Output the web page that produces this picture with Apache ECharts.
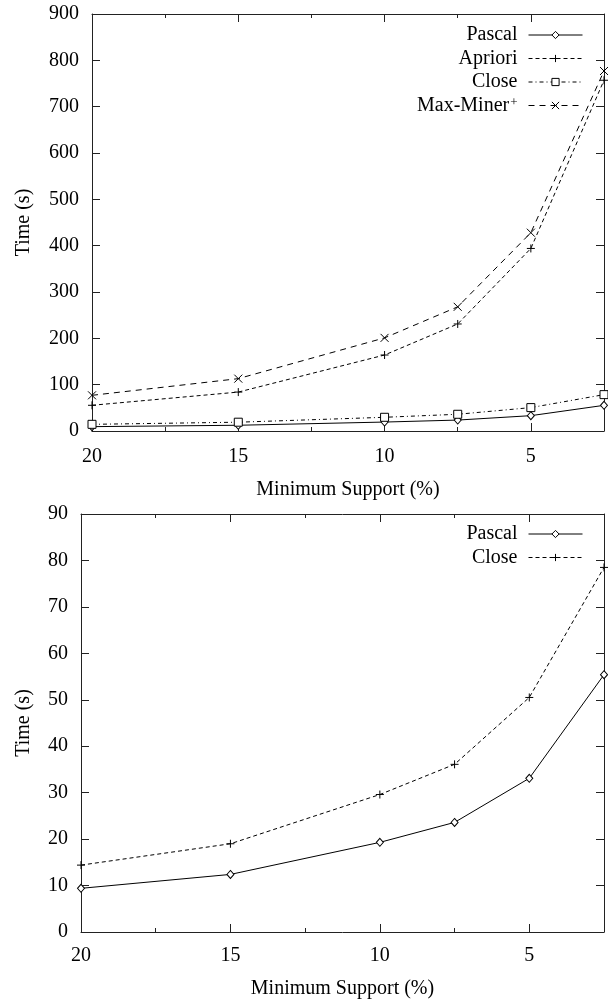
<!DOCTYPE html>
<html>
<head>
<meta charset="utf-8">
<script src="https://cdn.jsdelivr.net/npm/echarts@6/dist/echarts.min.js"></script>
<style>
  html, body { margin: 0; padding: 0; background: #fff; }
  #chart { width: 608px; height: 1001px; }
</style>
</head>
<body>
<div id="chart"></div>
<script>
// Minimum support thresholds (%) and execution times (s)
const supports = [20, 15, 10, 7.5, 5, 2.5];
const pascalTimes = [9.4, 12.4, 19.3, 23.6, 33.1, 55.4];
const aprioriTimes = [55.5, 84, 164, 231, 394, 757];
const closeTimes = [14.4, 19, 29.6, 36.1, 50.5, 78.5];
const maxMinerTimes = [77, 113, 201, 268, 428, 777];

// Axis ticks
const xMajorTicks = [20, 15, 10, 5];
const xMinorTicks = [17.5, 12.5, 7.5];
const topYTicks = { min: 0, max: 900, interval: 100 };
const bottomYTicks = { min: 0, max: 90, interval: 10 };

const FONT = 'Liberation Serif';
const FS = 20;
const INK = '#000';
const AXIS = '#222';

// Legend labels shown for each series name
const legendText = {
  'Pascal': 'Pascal',
  'Apriori': 'Apriori',
  'Close': 'Close',
  'Max-Miner+': 'Max-Miner{sup|+}',
  'Pascal (0-90 s)': 'Pascal',
  'Close (0-90 s)': 'Close'
};

const pairs = (ys) => supports.map((x, i) => [x, ys[i]]);

const SYM = {
  diamond: { symbol: 'diamond', size: [7, 8] },
  plus: { symbol: 'path://M0,5L10,5M5,0L5,10', size: 8 },
  square: { symbol: 'rect', size: 8 },
  cross: { symbol: 'path://M0,0L10,10M0,10L10,0', size: 8 }
};

function lineSeries(name, ys, grid, sym, dash) {
  return {
    type: 'line',
    name: name,
    data: pairs(ys),
    xAxisIndex: grid * 4,
    yAxisIndex: grid * 2,
    symbol: sym.symbol,
    symbolSize: sym.size,
    clip: false,
    lineStyle: { color: INK, width: 1, type: dash },
    itemStyle: { color: '#fff', borderColor: INK, borderWidth: 1 },
    emphasis: { disabled: true }
  };
}

function xAxesFor(grid, nameGap, labelMargin) {
  const base = {
    type: 'value', gridIndex: grid, min: 2.5, max: 20, inverse: true,
    splitLine: { show: false }
  };
  return [
    Object.assign({}, base, {
      position: 'bottom',
      name: 'Minimum Support (%)',
      nameLocation: 'middle',
      nameGap: nameGap,
      nameTextStyle: { fontFamily: FONT, fontSize: FS, color: INK },
      axisLine: { show: true, lineStyle: { color: AXIS, width: 1 } },
      axisTick: { show: true, inside: true, length: 8, customValues: xMajorTicks, lineStyle: { color: AXIS } },
      axisLabel: { show: true, margin: labelMargin, customValues: xMajorTicks, fontFamily: FONT, fontSize: FS, color: INK }
    }),
    Object.assign({}, base, {
      position: 'bottom',
      axisLine: { show: false },
      axisTick: { show: true, inside: true, length: 4, customValues: xMinorTicks, lineStyle: { color: AXIS } },
      axisLabel: { show: false }
    }),
    Object.assign({}, base, {
      position: 'top',
      axisLine: { show: true, lineStyle: { color: AXIS, width: 1 } },
      axisTick: { show: true, inside: true, length: 8, customValues: xMajorTicks, lineStyle: { color: AXIS } },
      axisLabel: { show: false }
    }),
    Object.assign({}, base, {
      position: 'top',
      axisLine: { show: false },
      axisTick: { show: true, inside: true, length: 4, customValues: xMinorTicks, lineStyle: { color: AXIS } },
      axisLabel: { show: false }
    })
  ];
}

function yAxesFor(grid, ticks, nameGap) {
  const base = {
    type: 'value', gridIndex: grid,
    min: ticks.min, max: ticks.max, interval: ticks.interval,
    splitLine: { show: false },
    axisLine: { show: true, lineStyle: { color: AXIS, width: 1 } },
    axisTick: { show: true, inside: true, length: 8, lineStyle: { color: AXIS } }
  };
  return [
    Object.assign({}, base, {
      position: 'left',
      name: 'Time (s)',
      nameLocation: 'middle',
      nameGap: nameGap,
      nameRotate: 90,
      nameTextStyle: { fontFamily: FONT, fontSize: FS, color: INK },
      axisLabel: { show: true, margin: 13, fontFamily: FONT, fontSize: FS, color: INK }
    }),
    Object.assign({}, base, {
      position: 'right',
      axisLabel: { show: false }
    })
  ];
}

function legendFor(names, top) {
  return {
    orient: 'vertical',
    right: 25,
    top: top,
    padding: 0,
    align: 'right',
    itemWidth: 54,
    itemHeight: 9,
    itemGap: 3.5,
    selectedMode: false,
    data: names,
    lineStyle: { width: 1 },
    itemStyle: { borderWidth: 1 },
    formatter: (n) => legendText[n],
    textStyle: {
      fontFamily: FONT, fontSize: FS, color: INK, lineHeight: 18,
      padding: [0, 6, 0, 0],
      rich: {
        sup: { fontFamily: FONT, fontSize: 13, color: INK, verticalAlign: 'top', lineHeight: 18, padding: [0, 0, 6, 1] }
      }
    }
  };
}

const chart = echarts.init(document.getElementById('chart'), null, { renderer: 'canvas' });

chart.setOption({
  animation: false,
  backgroundColor: '#fff',
  grid: [
    { left: 92, right: 4, top: 14, height: 417 },
    { left: 81, right: 4, top: 514, height: 418 }
  ],
  xAxis: [].concat(xAxesFor(0, 49, 16), xAxesFor(1, 47, 14)),
  yAxis: [].concat(yAxesFor(0, topYTicks, 58), yAxesFor(1, bottomYTicks, 47)),
  legend: [
    legendFor(['Pascal', 'Apriori', 'Close', 'Max-Miner+'], 25),
    legendFor(['Pascal (0-90 s)', 'Close (0-90 s)'], 524)
  ],
  series: [
    lineSeries('Pascal', pascalTimes, 0, SYM.diamond, 'solid'),
    lineSeries('Apriori', aprioriTimes, 0, SYM.plus, [4, 3]),
    lineSeries('Close', closeTimes, 0, SYM.square, [4, 3, 1, 3]),
    lineSeries('Max-Miner+', maxMinerTimes, 0, SYM.cross, [6, 5]),
    lineSeries('Pascal (0-90 s)', pascalTimes, 1, SYM.diamond, 'solid'),
    lineSeries('Close (0-90 s)', closeTimes, 1, SYM.plus, [4, 3])
  ]
});
</script>
</body>
</html>
